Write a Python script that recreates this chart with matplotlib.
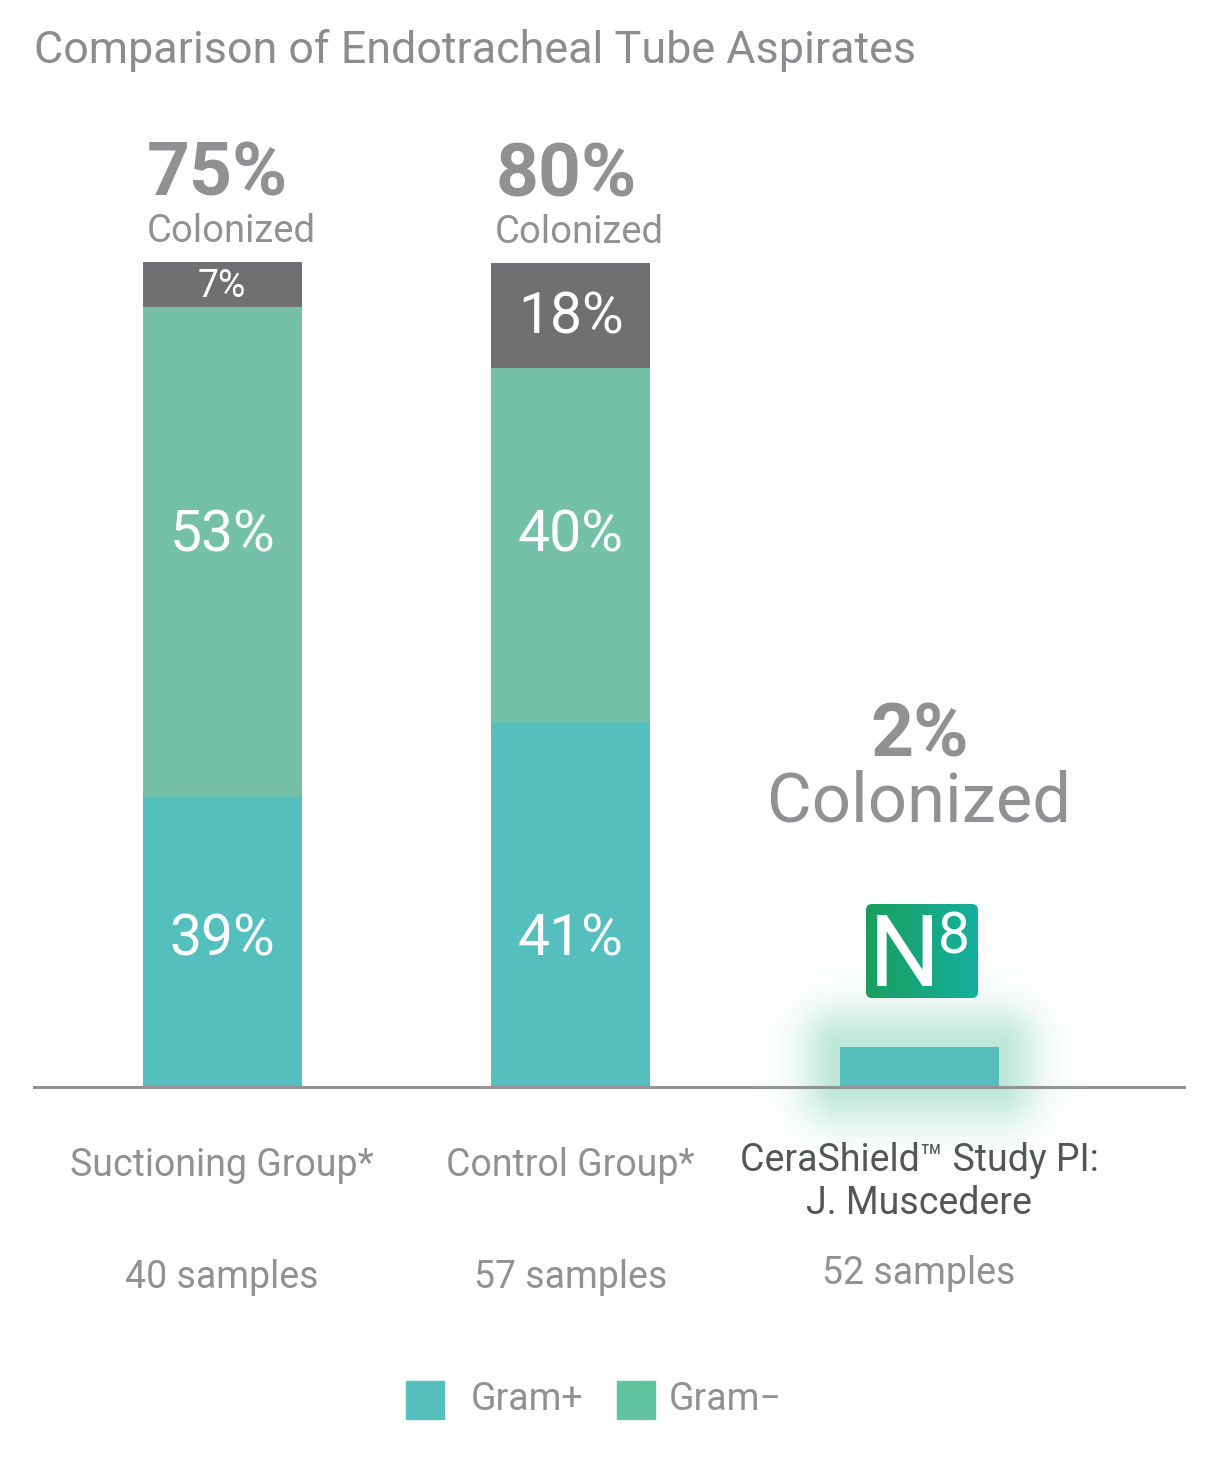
import numpy as np
import matplotlib
matplotlib.use("Agg")
import matplotlib.pyplot as plt
from matplotlib.patches import Rectangle, FancyBboxPatch

plt.rcParams["font.family"] = ["Roboto", "DejaVu Sans"]

# --- data (heights as drawn, label strings as printed) ---
groups = ["Suctioning Group*", "Control Group*", "CeraShield\u2122 Study PI:\nJ. Muscedere"]
samples = ["40 samples", "57 samples", "52 samples"]
colonized = ["75%", "80%", "2%"]
gram_pos = [35.2, 44.2, 4.85]
gram_neg = [59.4, 43.0, 0.0]
other = [5.45, 12.7, 0.0]
gram_pos_lbl = ["39%", "41%", ""]
gram_neg_lbl = ["53%", "40%", ""]
other_lbl = ["7%", "18%", ""]

TEAL = "#55bfbe"
GREEN = "#75c0a8"
GREEN_LEG = "#62c3a1"
DARK = "#707073"
GREY_TXT = "#919194"

W, H = 1220, 1475
fig = plt.figure(figsize=(W / 100, H / 100), dpi=100)
fig.patch.set_facecolor("white")

# main axes: baseline at y=1087px, 8.25 px per unit
ax = fig.add_axes([34 / W, (H - 1087) / H, 1150 / W, 1000 / H])
ax.set_xlim(-0.540, 2.760)
ax.set_ylim(0, 1000 / 8.25)
ax.axis("off")

x = np.arange(len(groups))
bw = 0.456
pxx, pxy = 348.5, 8.25

# glow behind the CeraShield bar
gx0, gx1 = x[2] - bw / 2 - 0.35, x[2] + bw / 2 + 0.35
gy0, gy1 = -14, gram_pos[2] + 16
xx, yy = np.meshgrid(np.linspace(gx0, gx1, 400), np.linspace(gy0, gy1, 300))
dx = np.maximum(np.abs(xx - x[2]) - bw / 2, 0) * pxx
dy = np.maximum(np.maximum(yy - gram_pos[2], 0 - yy), 0) * pxy
d = np.hypot(dx, dy)
glow = np.zeros(xx.shape + (4,))
glow[..., 0], glow[..., 1], glow[..., 2] = 0.50, 0.82, 0.70
glow[..., 3] = 0.50 * np.exp(-(d / 40.0) ** 2)
ax.imshow(glow, extent=(gx0, gx1, gy0, gy1), origin="lower", aspect="auto",
          zorder=0, clip_on=False, interpolation="bilinear")

ax.bar(x, gram_pos, bw, color=TEAL, zorder=2)
ax.bar(x, gram_neg, bw, bottom=gram_pos, color=GREEN, zorder=2)
bot2 = np.array(gram_pos) + np.array(gram_neg)
ax.bar(x, other, bw, bottom=bot2, color=DARK, zorder=2)
ax.axhline(0, color="#939393", lw=2.2, zorder=3, clip_on=False)

# in-bar labels
for i in range(3):
    if gram_pos_lbl[i]:
        ax.text(x[i], 17.8, gram_pos_lbl[i], ha="center", va="center",
                color="white", fontsize=41, zorder=4)
    if gram_neg_lbl[i]:
        ax.text(x[i], 66.8, gram_neg_lbl[i], ha="center", va="center",
                color="white", fontsize=41, zorder=4)
    if other_lbl[i]:
        fs = 27 if other[i] < 8 else 41
        ax.text(x[i], bot2[i] + other[i] / 2 - 0.3, other_lbl[i], ha="center", va="center",
                color="white", fontsize=fs, zorder=4)

totals = np.array(gram_pos) + np.array(gram_neg) + np.array(other)

# colonized headers
for i in range(2):
    ax.annotate(colonized[i], (x[i] - bw / 2, totals[i]), xytext=(4, 86),
                textcoords="offset pixels", ha="left", va="center",
                fontsize=54, fontweight="bold", color=GREY_TXT)
    ax.annotate("Colonized", (x[i] - bw / 2, totals[i]), xytext=(4, 30),
                textcoords="offset pixels", ha="left", va="center",
                fontsize=27.5, color=GREY_TXT)
ax.annotate(colonized[2], (x[2], totals[2]), xytext=(0, 310),
            textcoords="offset pixels", ha="center", va="center",
            fontsize=54, fontweight="bold", color=GREY_TXT)
ax.annotate("Colonized", (x[2], totals[2]), xytext=(0, 244),
            textcoords="offset pixels", ha="center", va="center",
            fontsize=49.5, color=GREY_TXT)

# overlay in figure pixels for logo, title and legend
ov = fig.add_axes([0, 0, 1, 1])
ov.set_xlim(0, W)
ov.set_ylim(H, 0)
ov.axis("off")
ov.patch.set_visible(False)

# N8 logo above the third bar
lx0, lx1, ly0, ly1 = 866, 978, 904, 998
box = FancyBboxPatch((lx0, ly0), lx1 - lx0, ly1 - ly0,
                     boxstyle="round,pad=0,rounding_size=6",
                     fc="none", ec="none")
ov.add_patch(box)
grad = np.zeros((2, 200, 3))
c0 = np.array([0x1a, 0x9e, 0x5e]) / 255
c1 = np.array([0x14, 0xb0, 0x9e]) / 255
t = np.linspace(0, 1, 200)[:, None]
grad[:] = c0 * (1 - t) + c1 * t
im = ov.imshow(grad, extent=(lx0, lx1, ly1, ly0), aspect="auto", zorder=5)
im.set_clip_path(box)
ov.text(904, 958, "N", ha="center", va="center", color="white", fontsize=72, zorder=6)
ov.text(954, 938, "8", ha="center", va="center", color="white", fontsize=41, zorder=6)

# category labels
xt = ax.get_xaxis_transform()
ax.text(x[0], -0.078, groups[0], transform=xt, ha="center", va="center",
        fontsize=27, color=GREY_TXT)
ax.text(x[1], -0.078, groups[1], transform=xt, ha="center", va="center",
        fontsize=27, color=GREY_TXT)
ax.text(x[2], -0.095, groups[2], transform=xt, ha="center", va="center",
        fontsize=27, color="#555557", linespacing=1.2)
for i in range(3):
    yy_ = -0.191 if i < 2 else -0.187
    ax.text(x[i], yy_, samples[i], transform=xt, ha="center", va="center",
            fontsize=27, color=GREY_TXT)

# title
ov.text(34, 51, "Comparison of Endotracheal Tube Aspirates", ha="left", va="center",
        fontsize=32.3, color="#8c8c8f")

# legend
for sx, col, lbl, tx in [(406, TEAL, "Gram+", 471), (617, GREEN_LEG, "Gram\u2212", 669)]:
    ov.add_patch(Rectangle((sx, 1381), 38, 38, color=col))
    ov.text(tx, 1400, lbl, ha="left", va="center", fontsize=27, color=GREY_TXT)

fig.savefig("out.png", dpi=100, facecolor="white")
